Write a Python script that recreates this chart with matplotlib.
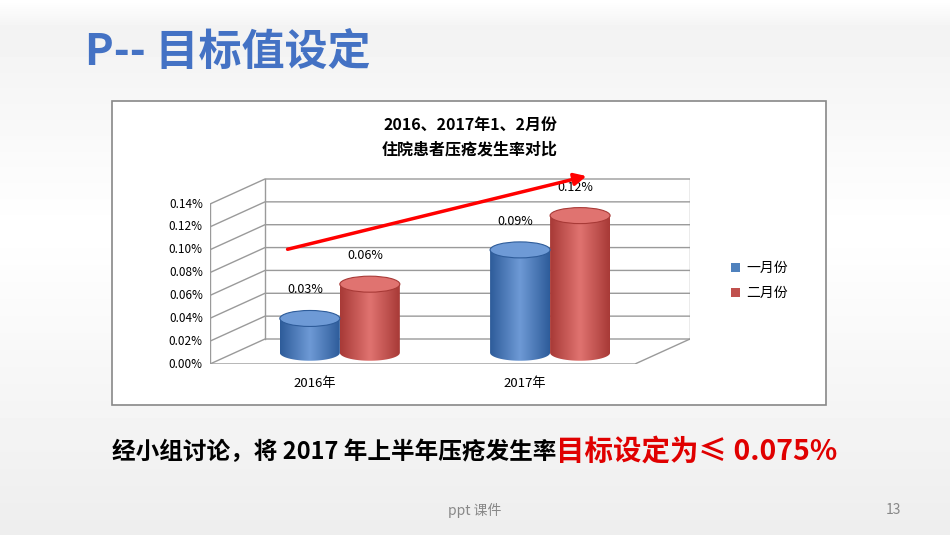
import matplotlib
matplotlib.use("Agg")
import matplotlib.pyplot as plt
import matplotlib.patches as mpatches
import numpy as np

plt.rcParams['font.family'] = ['Noto Sans CJK SC', 'DejaVu Sans']

years = ["2016年", "2017年"]
series = ["一月份", "二月份"]
jan = [0.0003, 0.0009]
feb = [0.0006, 0.0012]
value_labels = [["0.03%", "0.09%"], ["0.06%", "0.12%"]]
ticks = [0.0, 0.0002, 0.0004, 0.0006, 0.0008, 0.0010, 0.0012, 0.0014]

W, H = 950, 535
fig = plt.figure(figsize=(9.5, 5.35), dpi=100)

# background (pixel coordinates)
bg = fig.add_axes([0, 0, 1, 1])
bg.set_xlim(0, W); bg.set_ylim(H, 0); bg.axis("off")
yy = np.arange(H)
shade = np.where(yy < 28, 1.0 - 0.05 * yy / 28,
                 np.where(yy < 230, 0.95 + 0.05 * (yy - 28) / 202,
                          1.0 - 0.07 * (yy - 230) / 305))
bg.imshow(np.repeat(shade[:, None], 2, axis=1), cmap="gray", vmin=0, vmax=1,
          extent=[0, W, H, 0], aspect="auto", zorder=0)
bg.text(85, 52, "P-- 目标值设定", fontsize=31, fontweight="bold", color="#4472C4",
        va="center", ha="left")
bg.add_patch(mpatches.Rectangle((112, 101), 714, 304, fc="white", ec="#888888", lw=1.2, zorder=1))
bg.text(470, 125, "2016、2017年1、2月份", fontsize=11.5, fontweight="bold", ha="center", va="center")
bg.text(470, 149, "住院患者压疮发生率对比", fontsize=11.5, fontweight="bold", ha="center", va="center")

t = bg.text(112, 452, "经小组讨论，将 2017 年上半年压疮发生率", fontsize=17, fontweight="bold",
            ha="left", va="center")
bg.annotate("目标设定为≤ 0.075%", xy=(1, 0.5), xycoords=t, xytext=(0, 0), textcoords="offset points",
            fontsize=20.5, fontweight="bold", color="#E00000", ha="left", va="center")
bg.text(475, 510, "ppt 课件", fontsize=10, color="#888888", ha="center", va="center")
bg.text(893, 510, "13", fontsize=10, color="#888888", ha="center", va="center")

# legend
bg.add_patch(mpatches.Rectangle((731, 263), 9, 9, fc="#4F81BD", zorder=2))
bg.text(746, 268, series[0], fontsize=10, va="center")
bg.add_patch(mpatches.Rectangle((731, 288), 9, 9, fc="#C0504D", zorder=2))
bg.text(746, 293, series[1], fontsize=10, va="center")

# plot axes: x 210..690 px, y 364 (0) .. 170 px
ax = fig.add_axes([210 / W, 1 - 364 / H, 480 / W, 194 / H])
per = 160 / 0.0014  # px per unit
ax.axis("off")
dx = 55 / 480
dy = 25 / per
gc = "#9a9a9a"
for v in ticks:
    ax.plot([0, dx, 1], [v, v + dy, v + dy], color=gc, lw=1)
    ax.text(-0.015, v, f"{v*100:.2f}%", ha="right", va="center", fontsize=8.5)
ax.plot([0, 0], [0, ticks[-1]], color=gc, lw=1)
ax.plot([dx, dx], [dy, ticks[-1] + dy], color=gc, lw=1)
ax.plot([0, 1 - dx, 1], [0, 0, dy], color=gc, lw=1)
ax.plot([1, 1], [dy, ticks[-1] + dy], color=gc, lw=1)

centers = [[0.208, 0.646], [0.333, 0.771]]
colors = [("#2E5C9A", "#6E9AD6"), ("#A83A37", "#E07370")]
bw = 0.125
eh = 16 / per
base = dy * 0.45
for s, vals in enumerate([jan, feb]):
    dark, light = colors[s]
    cmap = matplotlib.colors.LinearSegmentedColormap.from_list("c", [dark, light, dark])
    for i, v in enumerate(vals):
        cx = centers[s][i]
        x0 = cx - bw / 2
        top = v + base
        grad = np.linspace(0, 1, 100)[None, :]
        im = ax.imshow(grad, cmap=cmap, extent=[x0, x0 + bw, base - eh / 2, top],
                       aspect="auto", zorder=3)
        path = mpatches.Polygon(
            np.vstack([[x0, top], [x0, base]] +
                      [[cx - bw / 2 * np.cos(a), base - eh / 2 * np.sin(a)] for a in np.linspace(0, np.pi, 30)] +
                      [[x0 + bw, top]]), transform=ax.transData)
        im.set_clip_path(path)
        ax.add_patch(mpatches.Ellipse((cx, top), bw, eh, fc=light, ec=dark, lw=0.8, zorder=4))
        ax.text(cx - 0.01, top + eh + 6 / per, value_labels[s][i], ha="center", va="bottom", fontsize=9)

ax.set_xlim(0, 1)
ax.set_ylim(0, 194 / per)
for i, yl in enumerate(years):
    ax.text([0.218, 0.656][i], -19 / per, yl, ha="center", va="center", fontsize=9.5, clip_on=False)

ax.annotate("", xy=(0.79, 0.00165), xytext=(0.156, 0.000998),
            arrowprops=dict(arrowstyle="-|>", color="red", lw=2.5, mutation_scale=18),
            zorder=5, annotation_clip=False)

fig.savefig("out.png", dpi=100)
